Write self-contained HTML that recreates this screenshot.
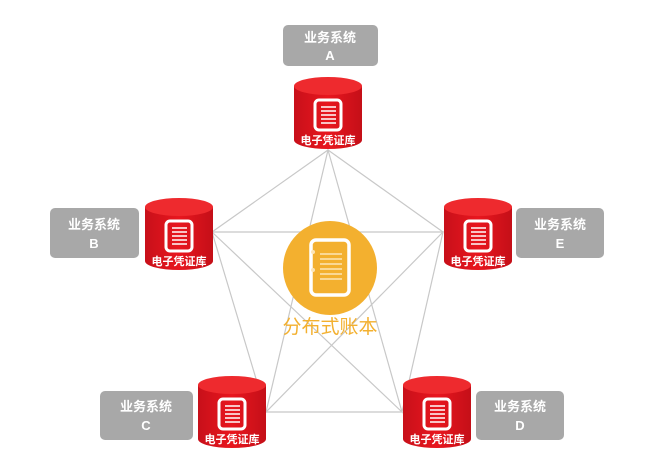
<!DOCTYPE html>
<html><head><meta charset="utf-8"><style>
body{margin:0;background:#fff;}
svg{display:block;font-family:"Liberation Sans","Noto Sans CJK SC",sans-serif;}
</style></head><body>
<svg width="653" height="464" viewBox="0 0 653 464" xmlns="http://www.w3.org/2000/svg">
<defs>
<linearGradient id="cg" x1="0" x2="1" y1="0" y2="0">
<stop offset="0" stop-color="#c8101a"/><stop offset="0.5" stop-color="#e8161e"/><stop offset="1" stop-color="#c40f18"/>
</linearGradient>
<g id="cyl">
<path d="M0,10 L0,64 A34,9 0 0 0 68,64 L68,10 Z" fill="url(#cg)"/>
<ellipse cx="34" cy="10" rx="34" ry="9" fill="#ee2a2e"/>
<rect x="21" y="24" width="26" height="30" rx="4" fill="none" stroke="#fff" stroke-width="3"/>
<g stroke="#fff" stroke-width="1.5"><line x1="27" y1="31" x2="42" y2="31"/><line x1="27" y1="35" x2="42" y2="35"/><line x1="27" y1="39" x2="42" y2="39"/><line x1="27" y1="43" x2="42" y2="43"/><line x1="27" y1="47" x2="42" y2="47"/></g>
<text x="34" y="68" font-size="11" font-weight="bold" fill="#fff" text-anchor="middle">电子凭证库</text>
</g>
</defs>
<g stroke="#c8c8c8" stroke-width="1.2" fill="none">
<polygon points="328,150 443,232 402,412 266,412 212,232"/>
<polygon points="328,150 402,412 212,232 443,232 266,412"/>
</g>
<circle cx="330" cy="268" r="47" fill="#f3b02f"/>
<rect x="311" y="240" width="38" height="55" rx="5" fill="none" stroke="#fff" stroke-width="3.5"/>
<g stroke="#fde5b5" stroke-width="1.5"><line x1="320" y1="254" x2="342" y2="254"/><line x1="320" y1="259" x2="342" y2="259"/><line x1="320" y1="264" x2="342" y2="264"/><line x1="320" y1="269" x2="342" y2="269"/><line x1="320" y1="274" x2="342" y2="274"/><line x1="320" y1="279" x2="342" y2="279"/></g>
<circle cx="313" cy="252" r="2" fill="#fde5b5"/><circle cx="313" cy="270" r="2" fill="#fde5b5"/>
<text x="330" y="333" font-size="19" fill="#f3b02f" text-anchor="middle">分布式账本</text>
<use href="#cyl" x="294" y="76"/>
<use href="#cyl" x="145" y="197"/>
<use href="#cyl" x="444" y="197"/>
<use href="#cyl" x="198" y="375"/>
<use href="#cyl" x="403" y="375"/>
<g fill="#a8a8a8">
<rect x="283" y="25" width="95" height="41" rx="5"/>
<rect x="50" y="208" width="89" height="50" rx="5"/>
<rect x="516" y="208" width="88" height="50" rx="5"/>
<rect x="100" y="391" width="93" height="49" rx="5"/>
<rect x="476" y="391" width="88" height="49" rx="5"/>
</g>
<g fill="#fff" font-size="13" font-weight="bold" text-anchor="middle">
<text x="330" y="42">业务系统</text><text x="330" y="60">A</text>
<text x="94" y="229">业务系统</text><text x="94" y="248">B</text>
<text x="560" y="229">业务系统</text><text x="560" y="248">E</text>
<text x="146" y="411">业务系统</text><text x="146" y="430">C</text>
<text x="520" y="411">业务系统</text><text x="520" y="430">D</text>
</g>
</svg>
</body></html>
